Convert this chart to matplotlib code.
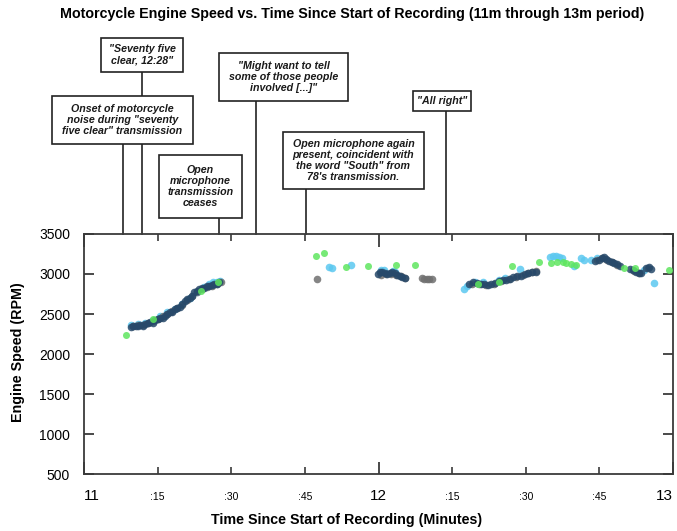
import matplotlib
matplotlib.use("Agg")
import matplotlib.pyplot as plt
from matplotlib.patches import Rectangle
from matplotlib.transforms import blended_transform_factory

plt.rcParams['font.family'] = ['Liberation Sans', 'DejaVu Sans']

# seconds after 11:00 / engine speed (RPM), four overlapping traces
dark_t = [9.5, 10.0, 10.5, 11.0, 11.5, 12.0, 12.5, 13.0, 13.5, 14.0, 14.5, 15.0, 15.5,
          16.0, 16.5, 17.0, 17.5, 18.0, 18.5, 19.0, 19.5, 20.0, 20.5, 21.0, 21.5, 22.0,
          22.5, 23.0, 23.5, 24.0, 24.5, 25.0, 25.5, 26.0, 26.5, 27.0, 27.5,
          59.8, 60.3, 60.8, 61.3, 61.8, 62.3, 62.8, 63.3, 63.8, 64.3, 64.8, 65.3,
          78.5, 79.3, 80.0, 80.8, 81.5, 82.3, 83.0, 83.8, 84.5, 85.3, 86.0, 86.8, 87.5,
          88.3, 89.0, 89.8, 90.5, 91.3, 92.0,
          104.2, 104.9, 105.5, 105.9, 106.4, 107.0, 107.5, 108.0, 108.6, 109.2,
          111.2, 111.8, 112.4, 113.0, 113.5, 114.6, 115.1, 115.5]
dark_rpm = [2340, 2350, 2345, 2355, 2360, 2350, 2370, 2385, 2400, 2390, 2420, 2440, 2455,
            2450, 2480, 2500, 2520, 2530, 2560, 2575, 2590, 2630, 2660, 2690, 2700, 2730,
            2770, 2790, 2810, 2820, 2830, 2845, 2850, 2860, 2875, 2880, 2895,
            3000, 3020, 3030, 3015, 3005, 3015, 3025, 3010, 2990, 2975, 2965, 2955,
            2880, 2900, 2890, 2880, 2870, 2860, 2870, 2890, 2910, 2930, 2920, 2940, 2960,
            2970, 2980, 3000, 3010, 3020, 3030,
            3160, 3175, 3200, 3210, 3190, 3160, 3150, 3135, 3120, 3105,
            3060, 3045, 3030, 3015, 3010, 3080, 3090, 3060]

grey_t = [10, 11, 12, 13, 14, 15, 16, 17, 18, 19, 20, 21, 22, 23, 24, 25, 26, 27, 28,
          47.4,
          60.5, 61.5, 62.5, 63.5, 64.5, 65.5,
          68.8, 69.3, 69.8, 70.3, 70.8,
          79.0, 80.5, 82.0, 83.5, 85.0, 86.5, 88.0, 89.5, 90.5, 91.2, 92.0,
          104.5, 105.5, 106.5, 107.5, 108.5, 112.0, 113.0, 115.0]
grey_rpm = [2350, 2360, 2365, 2390, 2410, 2440, 2470, 2500, 2540, 2570, 2610, 2670, 2720,
            2770, 2810, 2835, 2855, 2875, 2895,
            2941,
            2990, 2995, 3000, 2985, 2970, 2955,
            2945, 2940, 2940, 2935, 2935,
            2875, 2880, 2865, 2880, 2915, 2935, 2960, 2990, 3010, 3025, 3035,
            3170, 3200, 3180, 3150, 3115, 3040, 3015, 3070]

blue_t = [9.5, 11.0, 12.5, 14.0, 15.5, 17.0, 18.5, 20.0, 21.5, 23.0, 24.5, 25.5, 26.2,
          27.0, 27.8,
          49.9, 50.6, 54.3,
          60.5, 61.2, 62.9, 63.4,
          77.5, 78.0, 79.6, 81.2, 84.6, 85.8, 88.8,
          95.0, 95.6, 96.2, 96.8, 97.3, 99.9, 101.2, 101.8, 103.3, 104.6, 114.1, 116.2]
blue_rpm = [2360, 2370, 2385, 2420, 2470, 2520, 2565, 2620, 2700, 2780, 2835, 2870, 2895,
            2900, 2910,
            3083, 3075, 3115,
            3055, 3045, 3040, 3030,
            2810, 2850, 2895, 2895, 2925, 2955, 3060,
            3215, 3225, 3220, 3210, 3200, 3100, 3196, 3180, 3175, 3196, 3050, 2884]

green_t = [8.5, 14.1, 23.9, 27.3, 47.2, 48.8, 53.3, 57.8, 63.5, 67.4, 80.3, 84.5, 87.3,
           92.7, 95.2, 96.3, 97.5, 98.3, 99.2, 100.2, 110.0, 112.3, 119.2]
green_rpm = [2240, 2433, 2791, 2904, 3229, 3258, 3092, 3096, 3112, 3108, 2880, 2900, 3100,
             3154, 3140, 3150, 3145, 3135, 3130, 3112, 3079, 3079, 3050]

# annotations: time of event (s after 11:00) and text
note_t = [11.8, 7.9, 27.5, 35.0, 45.2, 73.8]
note_text = ['"Seventy five\nclear, 12:28"',
             'Onset of motorcycle\nnoise during "seventy\nfive clear" transmission',
             'Open\nmicrophone\ntransmission\nceases',
             '"Might want to tell\nsome of those people\ninvolved [...]"',
             'Open microphone again\npresent, coincident with\nthe word "South" from\n78\'s transmission.',
             '"All right"']
# box corners in pixels (left, top, right, bottom)
note_box = [(101, 38, 183, 72), (52, 96, 193, 144), (159, 155, 242, 218),
            (219, 53, 348, 101), (283, 132, 424, 189), (413, 91, 471, 111)]

W, H = 677, 531
fig = plt.figure(figsize=(W / 100, H / 100), dpi=100)
ax = fig.add_axes([84 / W, 1 - 474 / H, (673 - 84) / W, 240 / H])

ms = 30
ax.scatter(blue_t, blue_rpm, s=ms, color='#5cc8f0', alpha=0.85, linewidths=0, zorder=2)
ax.scatter(grey_t, grey_rpm, s=ms, color='#707070', alpha=0.85, linewidths=0, zorder=3)
ax.scatter(dark_t, dark_rpm, s=ms, color='#27496a', alpha=0.85, linewidths=0, zorder=4)
ax.scatter(green_t, green_rpm, s=ms * 0.85, color='#5fe65f', alpha=0.85, linewidths=0, zorder=5)

ax.set_xlim(0, 120)
ax.set_ylim(500, 3500)

spine_c = '#3a3a3a'
for s in ax.spines.values():
    s.set_color(spine_c)
    s.set_linewidth(1.3)

ax.set_xticks([0, 60, 120], ['11', '12', '13'])
ax.set_xticks([15, 30, 45, 75, 90, 105], [':15', ':30', ':45', ':15', ':30', ':45'], minor=True)
ax.tick_params(axis='x', which='major', direction='in', length=9, width=1.3, top=True,
               labelsize=11, pad=11, color=spine_c)
ax.tick_params(axis='x', which='minor', direction='in', length=5, width=1.2, top=True,
               labelsize=7.5, pad=13, color=spine_c)
ax.set_yticks(range(500, 3501, 500))
ax.tick_params(axis='y', direction='in', length=7, width=1.3, right=True,
               labelsize=10, pad=10, color=spine_c)
for lab in ax.get_xticklabels(minor=True):
    lab.set_fontfamily(['Liberation Sans Narrow', 'Liberation Sans'])
ax.get_xticklabels()[-1].set_horizontalalignment('right')
ax.get_xticklabels()[0].set_horizontalalignment('left')

# callout lines and boxes
trans = blended_transform_factory(ax.transData, ax.transAxes)
for t, txt, (x0, y0, x1, y1) in zip(note_t, note_text, note_box):
    ax.plot([t, t], [1, (474 - y1) / 240], transform=trans, color='#222222',
            lw=1.2, clip_on=False, zorder=1)
    fig.add_artist(Rectangle((x0 / W, 1 - y1 / H), (x1 - x0) / W, (y1 - y0) / H,
                             transform=fig.transFigure, facecolor='white',
                             edgecolor='#222222', lw=1.2, zorder=3))
    fig.text((x0 + x1) / 2 / W, 1 - (y0 + y1) / 2 / H, txt, ha='center', va='center',
             fontsize=7.7, fontweight='bold', fontstyle='italic', color='#1a1a1a',
             linespacing=1.15, zorder=4)

fig.text(352 / W, 1 - 14 / H,
         'Motorcycle Engine Speed vs. Time Since Start of Recording (11m through 13m period)',
         ha='center', va='center', fontsize=10.3, fontweight='bold')
fig.text(18 / W, 1 - 352 / H, 'Engine Speed (RPM)', rotation=90, ha='center', va='center',
         fontsize=10.3, fontweight='bold')
fig.text(347 / W, 1 - 520 / H, 'Time Since Start of Recording (Minutes)', ha='center',
         va='center', fontsize=10.3, fontweight='bold')

fig.savefig('out.png', dpi=100)
